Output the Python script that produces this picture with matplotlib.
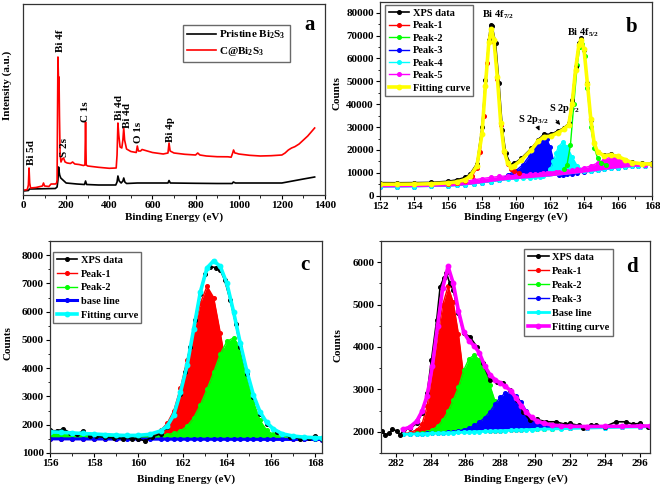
import matplotlib
matplotlib.use("Agg")
import matplotlib.pyplot as plt
from matplotlib.ticker import MultipleLocator

plt.rcParams['font.family'] = ['Liberation Serif', 'DejaVu Serif']
plt.rcParams['font.weight'] = 'bold'
plt.rcParams['mathtext.fontset'] = 'custom'
plt.rcParams['mathtext.rm'] = 'Liberation Serif:bold'
plt.rcParams['mathtext.it'] = 'Liberation Serif:bold'
plt.rcParams['mathtext.bf'] = 'Liberation Serif:bold'
plt.rcParams['mathtext.default'] = 'rm'

# ---------------- Panel a: survey spectra ----------------
a_red_x = [0, 10, 20, 25, 28, 31, 35, 60, 90, 95, 100, 120, 130, 150, 156, 158, 160, 162, 164, 165,
           167, 169, 172, 176, 182, 188, 195, 205, 220, 230, 240, 260, 280, 287, 290, 293, 300, 350,
           400, 432, 436, 440, 444, 450, 458, 463, 467, 471, 480, 500, 525, 530, 535, 545, 552, 600,
           650, 672, 677, 682, 700, 750, 800, 810, 820, 850, 900, 950, 965, 972, 976, 982, 990, 1000,
           1050, 1100, 1150, 1200, 1215, 1230, 1245, 1260, 1280, 1300, 1320, 1340, 1352]
a_red_y = [5, 5, 5.5, 10, 27, 12, 7, 7.5, 9, 12, 9, 8.5, 11, 11, 12, 15, 80, 138, 120, 95,
           118, 80, 40, 33, 36, 37, 33, 32, 31.5, 33, 31, 30.5, 29.5, 30, 73, 30, 29, 27.7,
           26.7, 27, 40, 72, 60, 48, 47, 55, 67, 55, 46, 43.5, 42.5, 49, 44, 44, 45.5, 42.5,
           41, 42, 52, 44, 42, 40.7, 40, 42, 40, 39, 38.3, 38.2, 37.8, 42, 45, 42, 41.7, 41,
           39.7, 39, 39.3, 40, 42, 45, 47, 48.3, 51, 55, 59, 64, 67]
a_blk_x = [0, 25, 30, 150, 158, 162, 165, 167, 170, 175, 185, 200, 250, 285, 290, 295, 350, 430,
           436, 440, 446, 455, 463, 467, 472, 480, 530, 600, 672, 677, 683, 800, 900, 970, 975,
           985, 1000, 1200, 1250, 1300, 1352]
a_blk_y = [4, 4.5, 6, 6.5, 8, 15, 28, 24, 20, 17, 15, 12, 11, 10.5, 14, 10.5, 10, 10,
           13, 19, 14, 12, 14, 17, 13, 11.5, 12, 12, 12, 14.5, 12, 11.7, 11.5, 11.5, 13,
           12, 12, 12, 14, 16, 18]
a_labels = ["Bi 5d", "Bi 4f", "S 2s", "C 1s", "Bi 4d", "Bi 4d", "O 1s", "Bi 4p"]
a_label_x = [39, 175, 193, 291, 448, 485, 537, 685]
a_label_y = [30, 143, 38, 73, 75, 67, 52, 53]

# ---------------- Panel b: Bi 4f / S 2p ----------------
b_data_x = [152, 153, 154, 155, 156, 156.5, 157, 157.3, 157.7, 158.0, 158.2, 158.4, 158.5, 158.6,
            158.8, 159.0, 159.2, 159.4, 159.7, 159.9, 160.3, 160.9, 161.3, 161.65, 162.05, 162.45,
            162.8, 163.1, 163.3, 163.5, 163.7, 163.85, 164.0, 164.2, 164.4, 164.6, 164.8, 165.2,
            165.6, 166.0, 166.4, 166.8, 167.4, 168.0]
b_data_y = [5700, 5650, 5700, 5800, 6300, 6900, 8000, 9500, 14000, 30000, 50500, 68000, 74500, 74000,
            66600, 49100, 28700, 18500, 13400, 14100, 16300, 20700, 24300, 27000, 26800, 28300,
            29600, 31600, 41800, 56400, 66600, 68800, 63700, 49100, 33100, 22900, 19200, 17800,
            18300, 17200, 15600, 14600, 14100, 14100]
b_fitc_x = [152, 153, 154, 155, 156, 156.5, 157, 157.3, 157.7, 158.0, 158.2, 158.4, 158.55, 158.7,
            158.9, 159.1, 159.3, 159.5, 159.7, 159.9, 160.3, 160.9, 161.3, 161.65, 162.05, 162.45,
            162.8, 163.1, 163.3, 163.5, 163.7, 163.85, 164.0, 164.2, 164.4, 164.6, 164.8, 165.2,
            165.6, 166.0, 166.4, 166.8, 167.4, 168.0]
b_fitc_y = [5000, 5000, 5050, 5200, 5600, 6000, 7000, 8500, 13000, 27000, 48000, 67000, 73000, 68000,
            52000, 32000, 19500, 14500, 12500, 13200, 15500, 20000, 23800, 25800, 26000, 27500,
            29000, 31000, 40000, 55000, 66000, 68200, 64000, 49000, 33500, 23000, 19000, 17500,
            17800, 17200, 15800, 14500, 14000, 13800]
b_p1_x = [156.0, 156.5, 157.0, 157.4, 157.7, 157.9, 158.1, 158.3, 158.45, 158.55, 158.7, 158.9,
          159.1, 159.3, 159.5, 159.7, 159.9, 160.2]
b_p1_y = [5000, 5600, 6500, 8500, 12000, 19000, 35000, 58000, 70000, 72500, 67000, 51000,
          31000, 19000, 14000, 11800, 10800, 10000]
b_p2_x = [162.8, 163.0, 163.2, 163.4, 163.6, 163.75, 163.9, 164.05, 164.2, 164.4, 164.6, 164.8,
          165.0, 165.3]
b_p2_y = [11500, 13500, 22000, 40000, 57000, 65000, 66500, 61000, 47000, 30000, 21000, 16500,
          14500, 13500]
b_grid = [152, 153, 154, 155, 156, 156.5, 157, 157.5, 158, 158.5, 159, 159.5, 160, 160.4, 160.8,
          161.1, 161.4, 161.6, 161.8, 162.0, 162.2, 162.35, 162.5, 162.75, 163.0, 163.3, 163.6,
          164.0, 164.4, 164.8, 165.2, 165.6, 166.0, 166.4, 166.8, 167.2, 167.6, 168.0]
b_p5_low = [3900, 3950, 4000, 4100, 4300, 4500, 4800, 5200, 5700, 6200, 6700, 7100, 7400, 7700, 7900,
            8100, 8300, 8400, 8550, 8700, 8850, 8950, 9050, 9250, 9450, 9700, 9950,
            10300, 10700, 11100, 11500, 11900, 12200, 12500, 12800, 13000, 13200, 13400]
b_p5_top = [5000, 5050, 5150, 5300, 5600, 5900, 6300, 6900, 7500, 8000, 8400, 8700, 9000, 9200, 9400,
            9550, 9700, 9800, 9900, 10000, 10100, 10200, 10300, 10500, 10800, 11200, 11600,
            12200, 13000, 14300, 15800, 17000, 16500, 15300, 14300, 13800, 13600, 13500]
b_p3_top = [3900, 3950, 4000, 4100, 4300, 4500, 4800, 5200, 5700, 6200, 6700, 9000, 11000, 13500, 17500,
            21500, 24800, 25800, 24800, 21500, 15500, 10500, 9050, 9250, 9450, 9700, 9950,
            10300, 10700, 11100, 11500, 11900, 12200, 12500, 12800, 13000, 13200, 13400]
b_p4_top = [3900, 3950, 4000, 4100, 4300, 4500, 4800, 5200, 5700, 6200, 6700, 7100, 7400, 7700, 7900,
            8100, 8300, 8400, 9500, 11500, 15000, 18500, 21500, 23400, 21500, 17000, 13000,
            11000, 10700, 11100, 11500, 11900, 12200, 12500, 12800, 13000, 13200, 13400]

# ---------------- Panel c: S 2p ----------------
c_data_x = [156.0, 156.3, 156.6, 156.9, 157.2, 157.5, 157.8, 158.1, 158.5, 158.9, 159.3, 159.7, 160.0,
            160.3, 160.6, 161.0, 161.3, 161.6, 161.9, 162.1, 162.35, 162.55, 162.8, 163.0, 163.25,
            163.5, 163.7, 163.9, 164.15, 164.4, 164.6, 164.9, 165.2, 165.5, 165.8, 166.25, 166.85,
            167.3, 167.7, 168.0, 168.3]
c_data_y = [1800, 1780, 1850, 1720, 1660, 1780, 1610, 1590, 1550, 1530, 1510, 1510, 1500,
            1425, 1560, 1685, 1920, 2390, 3100, 3870, 4750, 5700, 6640, 7350, 7590,
            7560, 7470, 7120, 6410, 5580, 4750, 3810, 2980, 2390, 2040, 1740, 1570,
            1510, 1540, 1600, 1480]
c_grid = [156, 156.5, 157, 157.5, 158, 158.5, 159, 159.5, 160, 160.5, 161, 161.3, 161.6, 161.9,
          162.2, 162.5, 162.8, 163.1, 163.4, 163.7, 164.0, 164.3, 164.6, 164.9, 165.2, 165.5,
          165.8, 166.1, 166.5, 167, 167.5, 168, 168.3]
c_base = [1500, 1499, 1498, 1497, 1496, 1495, 1494, 1493, 1492, 1491, 1490, 1490, 1489, 1489,
          1488, 1488, 1487, 1487, 1486, 1486, 1485, 1485, 1484, 1484, 1483, 1483,
          1482, 1482, 1481, 1480, 1479, 1478, 1477]
c_peak1 = [1505, 1504, 1503, 1502, 1501, 1500, 1505, 1515, 1540, 1620, 1800, 2050, 2500, 3300,
           4300, 5300, 6300, 6900, 6500, 5250, 3900, 3000, 2400, 2000, 1800, 1680,
           1600, 1560, 1530, 1500, 1490, 1480, 1477]
c_peak2 = [1720, 1700, 1680, 1665, 1650, 1635, 1620, 1610, 1605, 1610, 1625, 1650, 1700, 1780,
           1950, 2250, 2700, 3250, 3850, 4500, 4950, 5070, 4750, 3800, 2800, 2150,
           1800, 1660, 1580, 1540, 1520, 1505, 1500]
c_fit = [1750, 1730, 1710, 1690, 1670, 1650, 1630, 1620, 1625, 1660, 1780, 1950, 2350, 3150,
         4100, 5400, 6700, 7550, 7800, 7600, 7000, 6000, 4900, 3900, 3050, 2450,
         2080, 1850, 1680, 1600, 1560, 1540, 1530]

# ---------------- Panel d: C 1s ----------------
d_data_x = [281.2, 281.4, 281.6, 281.8, 282.05, 282.25, 282.45, 282.8, 283.2, 283.5, 283.8, 284.05,
            284.35, 284.55, 284.75, 284.9, 285.1, 285.3, 285.6, 285.9, 286.25, 286.65, 287.0, 287.4,
            287.8, 288.15, 288.55, 288.95, 289.3, 289.7, 290.1, 290.65, 291.2, 291.7, 292.0, 292.5,
            292.75, 293.2, 293.5, 294.0, 294.65, 295.2, 295.6, 296.0, 296.5]
d_data_y = [2024, 1921, 1960, 2055, 2024, 1921, 2055, 2080, 2197, 2433, 2905, 3693,
            4638, 5425, 5622, 5750, 5504, 5346, 4795, 4323, 4244, 4008, 3614, 3220,
            3181, 3142, 2984, 2748, 2472, 2276, 2291, 2236, 2236, 2180, 2197, 2150,
            2079, 2160, 2157, 2120, 2236, 2236, 2180, 2197, 2102]
d_grid = [282.4, 282.8, 283.2, 283.5, 283.8, 284.1, 284.4, 284.7, 285.0, 285.3, 285.6, 285.9, 286.2,
          286.5, 286.8, 287.1, 287.4, 287.7, 288.0, 288.3, 288.6, 288.9, 289.2, 289.5, 289.8, 290.1,
          290.5, 291.0, 291.5, 292.0, 293.0, 294.0, 295.0, 296.0, 296.6]
d_base = [1940, 1945, 1950, 1954, 1958, 1962, 1966, 1970, 1975, 1980, 1985, 1990, 1995,
          2000, 2005, 2010, 2015, 2020, 2025, 2030, 2035, 2040, 2045, 2050, 2054, 2058,
          2063, 2068, 2073, 2078, 2088, 2098, 2106, 2114, 2118]
d_peak1 = [1960, 1975, 2050, 2180, 2600, 3450, 4250, 5000, 5430, 5050, 4300, 3300, 2600,
           2200, 2080, 2040, 2030, 2030, 2030, 2035, 2040, 2045, 2050, 2055, 2059, 2063,
           2068, 2073, 2078, 2083, 2093, 2103, 2111, 2119, 2123]
d_peak2 = [1945, 1950, 1960, 1975, 2000, 2050, 2130, 2276, 2480, 2750, 3050, 3450, 3720,
           3810, 3700, 3460, 3100, 2720, 2400, 2230, 2160, 2120, 2100, 2090, 2080, 2075,
           2075, 2075, 2078, 2083, 2093, 2103, 2111, 2119, 2123]
d_peak3 = [1945, 1950, 1955, 1959, 1963, 1967, 1971, 1976, 1990, 2000, 2020, 2050, 2090,
           2150, 2230, 2330, 2470, 2650, 2820, 2910, 2920, 2850, 2700, 2500, 2330, 2230,
           2160, 2120, 2100, 2095, 2095, 2100, 2108, 2115, 2120]
d_fit = [2055, 2110, 2250, 2480, 2850, 3550, 4500, 5400, 5900, 5500, 4850, 4350, 4150,
         4030, 3860, 3560, 3350, 3230, 3150, 3070, 2970, 2800, 2620, 2460, 2340, 2260,
         2200, 2160, 2140, 2130, 2125, 2128, 2130, 2135, 2138]

W, H = 660, 488
fig = plt.figure(figsize=(6.6, 4.88), dpi=100)


def box(l, t, r, b):
    return [l / W, 1 - b / H, (r - l) / W, (b - t) / H]


axA = fig.add_axes(box(23, 4, 325, 195))
axB = fig.add_axes(box(380, 2, 652, 195.7))
axC = fig.add_axes(box(50, 241, 322, 453))
axD = fig.add_axes(box(381, 241, 650, 453))

FS = 8
for ax in (axA, axB, axC, axD):
    ax.tick_params(which='both', direction='out', top=False, right=False, labelsize=FS, pad=1.5)
    ax.tick_params(which='major', length=3, width=0.8)
    ax.tick_params(which='minor', length=1.8, width=0.6)
    for s in ax.spines.values():
        s.set_linewidth(0.9)
        s.set_color('#333333')
        s.set_zorder(20)

leg_kw = dict(frameon=True, fancybox=False, edgecolor='#444444', handlelength=2.0,
              handletextpad=0.3, borderpad=0.35, borderaxespad=0, numpoints=1)

# ---- Panel a ----
axA.plot(a_blk_x, a_blk_y, color='black', lw=1.2, label='Pristine Bi$_2$S$_3$')
axA.plot(a_red_x, a_red_y, color='red', lw=1.2, label='C@Bi$_2$S$_3$')
axA.set_xlim(0, 1400)
axA.set_ylim(0, 191)
axA.set_yticks([])
axA.xaxis.set_major_locator(MultipleLocator(200))
axA.xaxis.set_minor_locator(MultipleLocator(100))
for t, x, y in zip(a_labels, a_label_x, a_label_y):
    axA.text(x, y, t, rotation=90, ha='center', va='bottom', fontsize=FS, fontweight='bold')
kwa = dict(leg_kw)
kwa['handlelength'] = 2.6
axA.legend(loc='upper left', bbox_to_anchor=(0.53, 0.89), labelspacing=0.35,
           prop={'weight': 'bold', 'size': FS}, **kwa)
axA.text(0.95, 0.89, 'a', transform=axA.transAxes, fontsize=15, fontweight='bold', ha='center', va='center')

# ---- Panel b ----
ms = 2.6
axB.fill_between(b_grid, b_p5_low, b_p3_top, color='#0000ff', lw=0, zorder=2)
axB.fill_between(b_grid, b_p5_low, b_p4_top, color='#00ffff', lw=0, zorder=3)
axB.fill_between(b_grid, b_p5_low, b_p5_top, color='#ff00ff', lw=0, zorder=4)
axB.plot(b_data_x, b_data_y, color='black', lw=1.2, marker='o', ms=ms, label='XPS data', zorder=6)
axB.plot(b_p1_x, b_p1_y, color='red', lw=1.0, marker='o', ms=ms, label='Peak-1', zorder=5)
axB.plot(b_p2_x, b_p2_y, color='#00ff00', lw=1.0, marker='o', ms=ms, label='Peak-2', zorder=5)
axB.plot(b_grid, b_p3_top, color='#0000ff', lw=1.0, marker='o', ms=ms, label='Peak-3', zorder=2)
axB.plot(b_grid, b_p4_top, color='#00ffff', lw=1.0, marker='o', ms=ms, label='Peak-4', zorder=3)
axB.plot(b_grid, b_p5_top, color='#ff00ff', lw=1.0, marker='o', ms=ms, label='Peak-5', zorder=4)
axB.plot(b_fitc_x, b_fitc_y, color='#ffff00', lw=2.6, marker='o', ms=ms + 0.6, label='Fitting curve', zorder=7)
axB.set_xlim(152, 168)
axB.set_ylim(0, 84700)
axB.xaxis.set_major_locator(MultipleLocator(2))
axB.xaxis.set_minor_locator(MultipleLocator(1))
axB.yaxis.set_major_locator(MultipleLocator(10000))
axB.yaxis.set_minor_locator(MultipleLocator(5000))
axB.legend(loc='upper left', bbox_to_anchor=(0.018, 0.984), labelspacing=0.3,
           prop={'weight': 'bold', 'size': 7.5}, **leg_kw).set_zorder(30)
axB.text(158.97, 79000, 'Bi 4f$_{7/2}$', fontsize=7.5, fontweight='bold', ha='center', va='center')
axB.text(163.94, 71100, 'Bi 4f$_{5/2}$', fontsize=7.5, fontweight='bold', ha='center', va='center')
axB.text(161.04, 33500, 'S 2p$_{3/2}$', fontsize=7.5, fontweight='bold', ha='center', va='center')
axB.text(162.85, 38000, 'S 2p$_{1/2}$', fontsize=7.5, fontweight='bold', ha='center', va='center')
axB.annotate('', xy=(161.45, 27300), xytext=(161.25, 30500),
             arrowprops=dict(arrowstyle='-|>', color='black', lw=0.7, mutation_scale=6))
axB.annotate('', xy=(162.7, 30000), xytext=(162.25, 34000),
             arrowprops=dict(arrowstyle='-|>', color='black', lw=0.7, mutation_scale=6))
axB.text(0.926, 0.871, 'b', transform=axB.transAxes, fontsize=15, fontweight='bold', ha='center', va='center')

# ---- Panel c ----
axC.fill_between(c_grid, c_base, c_peak1, color='red', lw=0, zorder=2)
axC.plot(c_grid, c_peak1, color='red', lw=1.0, marker='o', ms=ms, label='Peak-1', zorder=2.1)
axC.fill_between(c_grid, c_base, c_peak2, color='#00ff00', lw=0, zorder=3)
axC.plot(c_grid, c_peak2, color='#00ff00', lw=1.0, marker='o', ms=ms, label='Peak-2', zorder=3.1)
axC.plot(c_grid, c_base, color='#0000ff', lw=2.2, marker='o', ms=ms, label='base line', zorder=4)
axC.plot(c_data_x, c_data_y, color='black', lw=1.2, marker='o', ms=ms, label='XPS data', zorder=5)
axC.plot(c_grid, c_fit, color='#00ffff', lw=2.6, marker='o', ms=ms + 0.6, label='Fitting curve', zorder=6)
axC.set_xlim(156, 168.3)
axC.set_ylim(1000, 8500)
axC.xaxis.set_major_locator(MultipleLocator(2))
axC.xaxis.set_minor_locator(MultipleLocator(1))
axC.yaxis.set_major_locator(MultipleLocator(1000))
axC.yaxis.set_minor_locator(MultipleLocator(500))
h, l = axC.get_legend_handles_labels()
order = [l.index(n) for n in ['XPS data', 'Peak-1', 'Peak-2', 'base line', 'Fitting curve']]
axC.legend([h[i] for i in order], [l[i] for i in order], loc='upper left',
           bbox_to_anchor=(0.011, 0.948), labelspacing=0.42,
           prop={'weight': 'bold', 'size': 7.5}, **leg_kw).set_zorder(30)
axC.text(0.9375, 0.887, 'c', transform=axC.transAxes, fontsize=15, fontweight='bold', ha='center', va='center')

# ---- Panel d ----
axD.fill_between(d_grid, d_base, d_peak1, color='red', lw=0, zorder=2)
axD.plot(d_grid, d_peak1, color='red', lw=1.0, marker='o', ms=ms, label='Peak-1', zorder=2.1)
axD.fill_between(d_grid, d_base, d_peak2, color='#00ff00', lw=0, zorder=3)
axD.plot(d_grid, d_peak2, color='#00ff00', lw=1.0, marker='o', ms=ms, label='Peak-2', zorder=3.1)
axD.fill_between(d_grid, d_base, d_peak3, color='#0000ff', lw=0, zorder=4)
axD.plot(d_grid, d_peak3, color='#0000ff', lw=1.0, marker='o', ms=ms, label='Peak-3', zorder=4.1)
axD.plot(d_grid, d_base, color='#00ffff', lw=2.0, marker='o', ms=ms, label='Base line', zorder=5)
axD.plot(d_data_x, d_data_y, color='black', lw=1.2, marker='o', ms=ms, label='XPS data', zorder=6)
axD.plot(d_grid, d_fit, color='#ff00ff', lw=2.6, marker='o', ms=ms + 0.6, label='Fitting curve', zorder=7)
axD.set_xlim(281.15, 296.6)
axD.set_ylim(1500, 6500)
axD.xaxis.set_major_locator(MultipleLocator(2))
axD.xaxis.set_minor_locator(MultipleLocator(1))
axD.yaxis.set_major_locator(MultipleLocator(1000))
axD.yaxis.set_minor_locator(MultipleLocator(500))
h, l = axD.get_legend_handles_labels()
order = [l.index(n) for n in ['XPS data', 'Peak-1', 'Peak-2', 'Peak-3', 'Base line', 'Fitting curve']]
axD.legend([h[i] for i in order], [l[i] for i in order], loc='upper left',
           bbox_to_anchor=(0.532, 0.962), labelspacing=0.45,
           prop={'weight': 'bold', 'size': 7.5}, **leg_kw).set_zorder(30)
axD.text(0.933, 0.877, 'd', transform=axD.transAxes, fontsize=15, fontweight='bold', ha='center', va='center')

for ax in (axA, axB, axC, axD):
    for lab in ax.get_xticklabels() + ax.get_yticklabels():
        lab.set_fontweight('bold')


def ftext(px, py, s, rot=0):
    fig.text(px / W, 1 - py / H, s, rotation=rot, ha='center', va='center', fontsize=FS, fontweight='bold')


ftext(174, 217, 'Binding Energy (eV)')
ftext(516, 217, 'Binding Engergy (eV)')
ftext(186, 479, 'Binding Energy (eV)')
ftext(516, 479, 'Binding Engergy (eV)')
ftext(7, 85, 'Intensity (a.u.)', 90)
ftext(337, 93, 'Counts', 90)
ftext(8, 343, 'Counts', 90)
ftext(338, 345, 'Counts', 90)

fig.savefig('out.png', dpi=100)
